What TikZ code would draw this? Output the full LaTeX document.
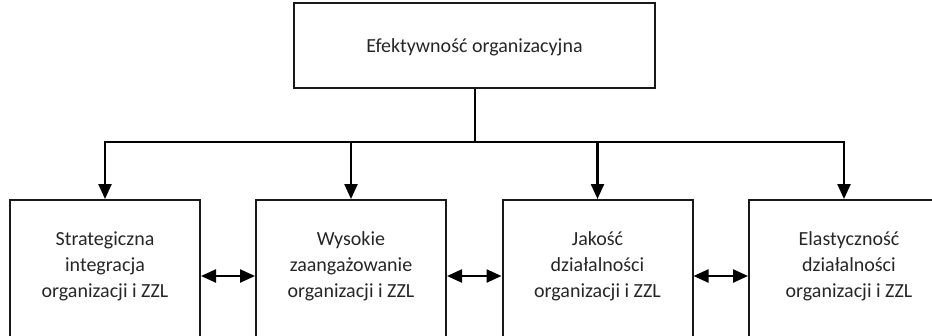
\documentclass[tikz,border=0pt]{standalone}
\usepackage{fontspec}
\setmainfont{Carlito}
\usetikzlibrary{arrows.meta}
\begin{document}
\begin{tikzpicture}[x=1pt,y=-1pt,
  box/.style={draw=black!90,line width=2pt,minimum width=190pt,minimum height=152pt,inner sep=0pt},
  lbl/.style={align=center,font=\fontsize{20}{26}\selectfont,text=black!85},
  link/.style={line width=2.4pt,-{Triangle[length=15pt,width=13pt]}},
  twoway/.style={line width=2.4pt,{Triangle[length=15pt,width=13pt]}-{Triangle[length=15pt,width=13pt]}}]
\useasboundingbox (0,0) rectangle (932,335);
\clip (0,0) rectangle (932,335);

% top box
\node[draw=black!90,line width=2pt,minimum width=361pt,minimum height=85pt,inner sep=0pt] (top) at (474.5,45.5) {};
\node[lbl] (toptext) at ([yshift=-2pt]top.center) {Efektywność organizacyjna};

% lower boxes
\node[box] (b1) at (105,276) {};
\node[box] (b2) at (351,276) {};
\node[box] (b3) at (597.5,276) {};
\node[box] (b4) at (844,276) {};

\node[lbl] (t1) at ([yshift=10pt]b1.center) {Strategiczna\\integracja\\organizacji i ZZL};
\node[lbl] (t2) at ([yshift=10pt]b2.center) {Wysokie\\zaangażowanie\\organizacji i ZZL};
\node[lbl] (t3) at ([yshift=10pt]b3.center) {Jakość\\działalności\\organizacji i ZZL};
\node[lbl] (t4) at ([yshift=10pt,xshift=5pt]b4.center) {Elastyczność\\działalności\\organizacji i ZZL};

% distribution lines
\coordinate (bus) at (474.5,142);
\draw[line width=2pt] (top.south) -- (bus);
\draw[link] (bus) -| (b1.north);
\draw[link] (bus) -| (b4.north);
\draw[link] (b2.north |- bus) -- (b2.north);
\draw[link] (b3.north |- bus) -- (b3.north);

% mutual links
\draw[twoway] (b1.east) -- (b2.west);
\draw[twoway] (b2.east) -- (b3.west);
\draw[twoway] (b3.east) -- (b4.west);
\end{tikzpicture}
\end{document}
